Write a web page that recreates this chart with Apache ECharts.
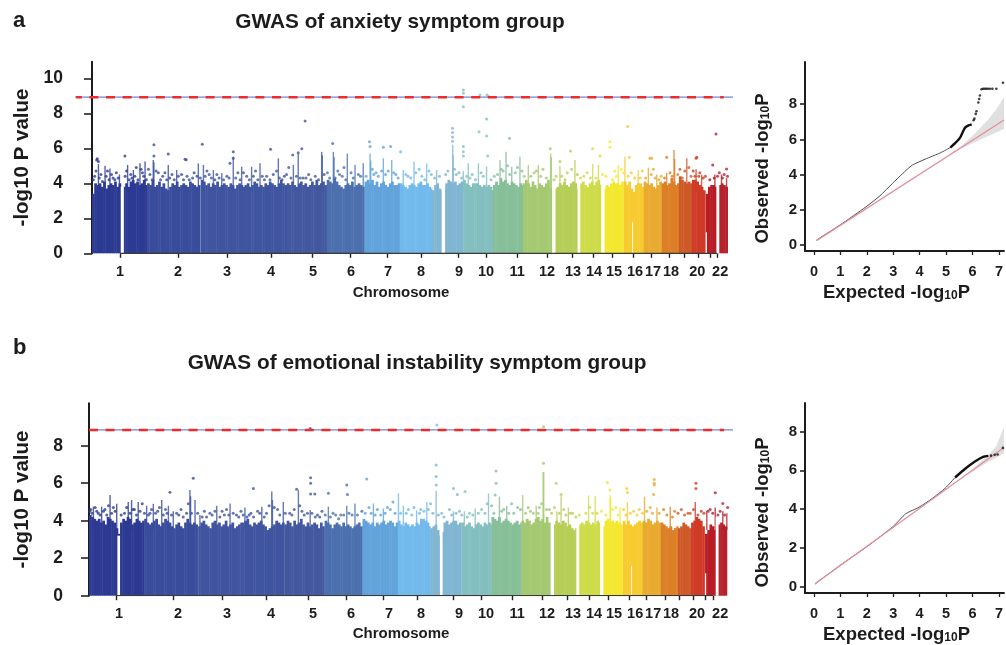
<!DOCTYPE html>
<html><head><meta charset="utf-8">
<style>html,body{margin:0;padding:0;background:#fff}#c{width:1006px;height:645px}</style>
<script src="https://cdn.jsdelivr.net/npm/echarts@6/dist/echarts.min.js"></script></head>
<body><div id="c"></div>
<script>
const FONT = '"Liberation Sans", Arial, sans-serif';
const chrNames = ['1','2','3','4','5','6','7','8','9','10','11','12','13','14','15','16','17','18','19','20','21','22'];
const chrSizes = [249,243,198,191,181,171,159,146,141,135,135,133,115,107,102,90,81,78,59,63,48,51];
const chrColors = ['#2c3a92','#3a4c9c','#40549f','#3f559f','#44589f','#4c70ae','#62a3db','#72b9ec','#80b6d2','#84bfbf','#86bf98','#a4c972','#b6ce58','#cedc4a','#f3e82f','#f7cb30','#e9aa30','#dc7f26','#cf5a29','#cf3b27','#b81c24','#b5222b'];

const labelNames = ['1','2','3','4','5','6','7','8','9','10','11','12','13','14','15','16','17','18','20','22'];
const labelPosA = [127,389,611,810,1000,1172,1339,1489,1661,1783,1923,2059,2176,2271,2362,2457,2538,2620,2738,2842];
const labelPosB = [135,401,622,821,1010,1181,1353,1497,1668,1790,1930,2065,2182,2277,2367,2462,2543,2624,2741,2845];
const tickPosA = [127,389,611,810,995,1167,1335,1489,1656,1783,1923,2059,2172,2267,2353,2448,2529,2611,2679,2742,2796,2828];
const tickPosB = [122,379,602,798,990,1159,1325,1479,1641,1770,1907,2042,2158,2253,2340,2435,2514,2596,2660,2723,2777,2813];
const yTicksA = [0,2,4,6,8,10];
const yTicksB = [0,2,4,6,8];
const thresholdA = 8.92;
const thresholdB = 8.84;

// top of the solid mass per 10 Mb bin, chromosome by chromosome
const bodyA = [
[3.4,4.0,3.9,4.0,3.8,4.1,3.7,3.9,4.0,3.9,4.1,3.8,4.0,3.6,3.8,4.0,3.8,4.1,4.2,4.0,4.1,3.9,4.0,4.2,3.9],
[4.0,3.9,4.2,3.8,3.9,4.1,3.8,4.0,3.7,3.6,3.8,4.0,3.9,4.1,3.8,3.9,4.0,3.9,3.8,4.1,4.0,3.9,3.8,3.9],
[4.2,4.1,3.9,4.0,3.8,4.0,3.9,4.1,3.8,3.9,4.0,3.9,3.8,4.0,3.9,3.7,3.9,4.0,3.9,3.8],
[3.9,4.0,3.8,3.9,4.1,4.0,3.8,3.9,3.8,4.0,3.9,4.1,4.0,3.9,3.8,4.0,4.2,4.0,3.9],
[4.0,3.9,4.1,3.9,3.8,4.0,4.1,3.9,4.0,3.8,3.9,4.1,3.9,4.2,3.9,4.0,4.1,3.9],
[4.2,4.1,4.0,4.3,4.1,3.9,3.8,3.7,3.9,4.0,3.9,4.1,3.8,3.9,4.0,3.9,3.8],
[4.1,4.2,4.0,4.2,3.9,4.1,3.8,4.0,4.1,3.9,3.8,4.0,4.1,3.9,3.9,4.0],
[4.0,3.9,3.8,3.7,3.9,4.0,3.9,3.8,4.0,4.1,3.9,3.9,4.0,3.8,3.7],
[3.6,3.9,4.0,3.7,3.6,3.7,4.0,4.2,4.1,4.0,4.1,3.9,4.0,4.1],
[4.2,4.0,3.9,3.8,4.0,4.0,4.0,3.9,3.8,3.9,3.8,3.9,3.8,3.6],
[3.9,4.1,3.9,4.3,4.1,4.2,4.0,3.9,4.1,4.0,3.9,3.8,4.0,3.9],
[4.0,4.2,4.0,3.8,4.1,3.9,3.7,4.0,3.9,3.8,4.0,4.2,3.7],
[3.6,3.7,3.8,4.0,3.9,4.1,3.9,3.8,4.0,4.1,4.0,3.7],
[3.6,4.0,4.1,3.9,3.8,4.0,4.1,3.9,4.1,4.2,3.9],
[3.5,3.7,3.9,3.8,4.0,4.1,4.0,4.0,3.9,4.1],
[4.1,3.9,4.1,3.7,3.5,3.9,4.0,4.0,3.8],
[4.1,4.0,3.9,4.0,3.8,3.7,3.9,4.1],
[4.0,4.1,3.9,4.0,4.3,4.1,3.9,4.0],
[4.4,4.2,4.1,4.0,4.1,4.0],
[4.2,4.2,4.1,3.9,3.8,3.6],
[3.4,3.8,3.9,3.9,3.8],
[3.6,3.9,4.0,3.9,3.8]];
const bodyB = [
[4.3,4.2,4.1,4.0,4.1,3.9,4.0,3.8,4.2,4.1,4.0,3.9,3.6,3.3,3.9,4.1,4.0,4.2,4.1,3.8,3.9,4.1,4.0,3.9,4.0],
[4.1,3.9,3.8,3.9,4.0,4.1,3.8,3.7,3.9,4.1,4.0,3.9,3.7,3.6,3.8,3.9,3.7,3.6,3.9,4.1,3.9,3.8,3.9,3.8],
[3.7,3.9,4.0,3.8,3.7,3.6,3.9,4.0,3.8,3.9,3.7,3.8,4.0,3.7,3.8,3.9,3.6,3.7,3.8,3.9],
[3.9,4.0,4.1,3.8,3.7,3.9,3.8,3.9,4.0,3.8,3.7,3.5,3.6,3.7,3.8,4.0,3.9,3.8,3.9],
[3.8,4.0,3.9,3.7,4.0,3.8,3.9,4.1,3.8,3.7,3.9,3.7,3.8,3.9,3.8,3.6,3.9,3.7],
[4.0,3.9,3.8,3.6,3.8,3.9,3.8,3.7,3.9,3.7,3.8,3.7,3.6,3.7,3.8,3.9,3.7],
[4.1,4.0,3.9,3.8,3.9,3.7,3.9,3.8,3.9,4.0,3.8,3.9,4.0,3.9,3.7,3.9],
[4.0,3.8,3.7,3.9,3.8,3.7,3.8,3.7,3.9,3.8,4.1,4.1,4.0,3.9,3.7],
[3.6,3.7,3.8,3.5,3.2,3.4,3.9,4.0,3.8,3.9,4.0,4.0,3.8,3.9],
[3.9,3.7,3.8,3.9,3.7,3.6,3.8,3.9,3.8,3.7,3.9,3.8,3.9,3.8],
[4.2,4.1,4.0,4.2,3.9,4.0,4.1,4.0,3.9,3.8,3.9,4.0,3.8,3.9],
[4.0,3.9,4.1,4.0,3.8,3.9,4.1,4.2,4.0,4.1,3.9,4.2,3.9],
[3.5,3.8,4.0,3.9,3.8,4.0,3.9,3.7,3.8,3.6,3.5,3.6],
[3.5,3.8,3.9,3.8,4.0,3.9,3.8,3.9,3.8,4.0,3.9],
[3.4,3.7,4.0,4.1,3.9,4.0,3.9,4.0,3.9,3.8],
[4.0,3.8,4.0,3.8,3.7,3.8,3.9,4.0,3.9],
[4.0,3.9,4.1,4.0,3.8,3.9,4.0,3.9],
[3.9,3.8,3.7,3.6,3.7,3.5,3.6,3.7],
[3.6,3.7,3.9,3.8,3.7,3.6],
[3.9,4.0,4.2,4.1,4.0,3.7],
[3.3,3.5,3.8,3.7,3.5],
[3.4,3.8,3.9,3.8,3.7]];

// unmapped stretches: [chromosome index, start Mb, end Mb, height]
const gapsA = [[0,130,144,3.8],[8,44,59,4.1],[12,0,15,4.2],[13,0,12,4.2],[14,0,15,4.3],[15,38,42,1.8],[20,0,5,1.2],[21,0,13,4.2]];
const gapsB = [[0,128,140,3.2],[8,44,56,3.5],[12,0,14,4.2],[13,0,13,4.2],[14,0,15,4.2],[15,38,42,1.6],[20,0,5,1.2],[21,0,13,4.2]];

// tall columns: [genome Mb, top]
const stemsA = [[29,5.1],[59,5.0],[81,4.85],[124,4.5],[161,5.05],[187,4.76],[217,5.14],[240,5.24],[277,5.33],[280,5.2],[345,5.05],[383,4.76],[481,5.14],[504,5.05],[549,4.76],[587,4.57],[639,5.52],[677,4.95],[722,4.95],[760,5.14],[843,5.43],[911,5.05],[933,5.7],[1039,5.8],[1042,5.6],[1092,5.8],[1095,5.5],[1155,5.7],[1190,5.05],[1227,5.14],[1258,5.7],[1261,5.3],[1318,5.43],[1356,5.33],[1408,4.76],[1457,5.24],[1514,5.14],[1559,4.76],[1632,6.2],[1634,5.6],[1680,4.7],[1702,5.14],[1748,5.14],[1785,4.95],[1846,5.33],[1873,5.8],[1899,4.95],[1936,5.52],[1974,5.05],[2019,5.05],[2075,5.7],[2078,5.5],[2117,5.0],[2185,5.33],[2265,5.1],[2291,5.05],[2381,5.05],[2411,5.52],[2471,4.76],[2517,4.9],[2555,4.5],[2600,4.6],[2633,5.9],[2636,5.4],[2691,5.43],[2733,4.8],[2758,4.5],[2818,4.5],[2848,4.5],[2871,4.3]];
const stemsB = [[20,4.75],[57,4.75],[95,5.37],[125,4.9],[177,5.0],[192,5.1],[222,5.0],[260,4.8],[290,4.9],[328,5.1],[358,4.8],[380,4.5],[455,5.63],[458,5.3],[478,5.1],[500,4.3],[576,4.8],[636,4.92],[703,4.7],[779,4.75],[824,5.55],[827,5.1],[876,5.0],[944,5.63],[997,4.57],[1079,4.75],[1162,4.8],[1199,4.92],[1282,4.92],[1327,4.65],[1395,5.45],[1417,4.8],[1477,4.55],[1523,5.0],[1565,5.6],[1643,4.5],[1692,4.5],[1741,4.65],[1801,5.45],[1850,5.28],[1883,4.8],[1955,5.37],[2016,4.8],[2047,6.6],[2050,6.6],[2109,4.5],[2128,5.3],[2161,4.7],[2252,5.35],[2282,5.3],[2349,5.37],[2351,5.2],[2394,4.7],[2427,5.0],[2504,5.28],[2560,4.7],[2620,4.75],[2733,5.0],[2785,4.5],[2823,4.7],[2857,4.5],[2875,4.4]];

// isolated SNPs: [genome Mb, -log10 P]
const dotsA = [[21,5.33],[29,5.24],[24,5.4],[149,5.56],[280,6.2],[280,5.56],[345,5.68],[421,5.37],[426,5.34],[499,6.23],[639,5.8],[639,5.43],[624,5.14],[808,5.94],[908,5.62],[949,5.98],[933,5.75],[964,7.56],[1089,6.27],[1255,6.38],[1258,6.1],[1318,6.06],[1351,6.1],[1396,5.8],[1631,7.14],[1631,6.9],[1631,6.65],[1631,6.4],[1680,9.33],[1680,9.15],[1680,8.38],[1680,6.1],[1680,5.8],[1680,5.56],[1751,6.95],[1785,7.68],[1785,6.7],[1790,5.56],[1755,9.05],[1788,9.05],[1796,8.95],[1889,6.57],[2073,5.98],[2165,5.85],[2117,5.24],[2265,5.98],[2298,5.56],[2343,6.38],[2343,6.06],[2423,7.24],[2431,5.49],[2524,5.43],[2532,5.43],[2600,5.49],[2733,5.43],[2736,5.49],[2823,6.82],[2808,5.05],[2871,4.82],
[12,4.4],[40,4.5],[70,4.7],[95,4.3],[110,4.6],[150,4.4],[175,4.5],[200,4.9],[228,4.6],[255,4.8],[300,4.6],[320,4.4],[362,4.5],[405,4.5],[430,4.4],[455,4.3],[520,4.7],[530,4.5],[565,4.5],[610,4.4],[660,4.6],[700,4.4],[740,4.7],[790,4.4],[820,4.5],[870,4.4],[890,4.9],[955,4.3],[980,4.5],[1010,4.4],[1065,4.6],[1120,4.5],[1140,4.9],[1205,4.5],[1285,4.6],[1340,4.7],[1375,4.5],[1430,4.4],[1480,4.8],[1535,4.5],[1600,4.5],[1660,4.6],[1720,4.5],[1770,4.4],[1820,4.4],[1860,4.7],[1915,4.6],[1955,4.4],[2000,4.6],[2040,4.8],[2100,4.4],[2150,4.6],[2210,4.3],[2240,4.6],[2310,4.5],[2365,4.7],[2395,4.8],[2440,4.6],[2490,4.7],[2540,4.8],[2575,4.4],[2615,4.6],[2660,4.8],[2700,4.9],[2720,4.7],[2750,4.6],[2775,4.4],[2795,4.2],[2838,4.6],[2860,4.5]];
const moreDotsA = [[6,4.2],[18,4.7],[33,4.3],[47,4.1],[64,4.4],[77,4.2],[88,4.5],[103,4.2],[118,4.3],[156,4.7],[168,4.2],[181,4.3],[194,4.4],[208,4.2],[222,4.8],[234,4.4],[246,4.2],[262,4.5],[272,4.2],[290,4.7],[310,4.2],[330,4.6],[338,4.2],[352,4.3],[372,4.2],[390,4.4],[414,4.2],[440,4.2],[462,4.6],[475,4.4],[490,4.3],[512,4.4],[540,4.3],[556,4.2],[575,4.3],[595,4.2],[620,4.3],[650,4.3],[670,4.2],[685,4.6],[712,4.2],[730,4.4],[750,4.2],[770,4.4],[780,4.2],[805,4.2],[835,4.7],[848,4.3],[860,4.2],[880,4.5],[900,4.3],[925,4.4],[942,4.3],[968,4.3],[990,4.2],[1025,4.2],[1050,4.5],[1075,4.3],[1100,4.3],[1112,4.7],[1132,4.4],[1148,4.2],[1172,4.6],[1182,4.3],[1215,4.4],[1240,4.4],[1268,4.8],[1275,4.5],[1295,4.4],[1310,4.7],[1328,4.5],[1365,4.6],[1385,4.3],[1420,4.5],[1442,4.3],[1465,4.6],[1492,4.4],[1505,4.2],[1525,4.7],[1550,4.3],[1572,4.4],[1610,4.7],[1640,4.8],[1648,4.5],[1672,4.3],[1695,4.4],[1710,4.3],[1735,4.2],[1760,4.6],[1805,4.2],[1835,4.5],[1852,4.8],[1880,5.0],[1890,4.5],[1925,4.9],[1945,4.7],[1985,4.4],[2010,4.7],[2030,4.4],[2055,4.3],[2090,4.2],[2125,4.4],[2140,4.2],[2170,4.8],[2195,4.5],[2225,4.4],[2255,4.3],[2280,4.3],[2325,4.4],[2355,4.2],[2372,4.4],[2405,4.6],[2425,4.4],[2455,4.3],[2480,4.3],[2505,4.3],[2530,4.5],[2548,4.3],[2565,4.2],[2590,4.3],[2625,4.4],[2650,4.5],[2670,4.3],[2682,4.7],[2710,4.4],[2728,4.4],[2745,4.4],[2765,4.3],[2815,4.3],[2830,4.4],[2852,4.3],[2875,4.4]];
const dotsB = [[470,6.26],[365,5.51],[741,5.72],[936,5.67],[999,6.29],[999,5.99],[999,5.42],[1018,5.42],[1079,5.46],[1162,5.9],[1165,5.4],[1252,6.22],[997,8.92],[1565,6.97],[1565,6.35],[1565,5.9],[1568,9.1],[1643,5.72],[1695,5.55],[1660,5.4],[1835,6.65],[1835,5.99],[1831,5.37],[2049,7.06],[2049,9.01],[2106,5.99],[2128,5.4],[2337,6.03],[2349,5.64],[2424,5.72],[2427,5.5],[2548,6.2],[2548,6.0],[2548,5.9],[2545,5.4],[2736,5.99],[2736,5.72],[2823,5.49],[2857,4.92],[2879,4.7],
[8,4.6],[35,4.5],[72,4.6],[110,4.7],[145,4.3],[205,4.6],[240,4.9],[275,4.4],[310,4.5],[345,4.6],[395,4.4],[415,4.6],[440,4.4],[520,4.5],[545,4.4],[600,4.5],[620,4.6],[665,4.3],[685,4.5],[730,4.4],[760,4.5],[800,4.4],[850,4.6],[905,4.4],[925,4.6],[960,4.5],[1030,4.3],[1050,4.5],[1100,4.4],[1135,4.3],[1230,4.5],[1262,4.7],[1300,4.6],[1345,4.7],[1370,5.0],[1440,4.6],[1495,4.6],[1540,4.9],[1590,4.4],[1625,4.6],[1670,4.5],[1715,4.4],[1770,4.6],[1815,4.8],[1870,4.6],[1905,4.9],[1945,4.6],[1990,4.5],[2030,4.7],[2075,4.6],[2140,4.6],[2180,4.4],[2210,4.3],[2270,4.4],[2310,4.5],[2375,4.7],[2410,4.6],[2455,4.5],[2480,4.6],[2530,4.7],[2590,4.6],[2640,4.5],[2670,4.6],[2700,4.4],[2760,4.5],[2800,4.6],[2845,4.5]];
const moreDotsB = [[4,4.5],[14,4.4],[28,4.7],[42,4.4],[50,4.3],[65,4.5],[80,4.3],[88,4.8],[102,4.4],[118,4.5],[160,4.4],[170,4.7],[185,4.4],[198,4.6],[214,4.3],[230,4.5],[250,4.4],[268,4.3],[282,4.6],[300,4.4],[318,4.7],[335,4.3],[352,4.4],[372,4.3],[405,4.3],[425,4.2],[448,4.9],[462,4.4],[490,4.4],[510,4.2],[530,4.2],[555,4.3],[568,4.5],[590,4.2],[610,4.3],[630,4.3],[650,4.4],[675,4.2],[695,4.3],[712,4.2],[722,4.3],[742,4.2],[770,4.4],[790,4.2],[812,4.8],[835,4.7],[860,4.3],[885,4.4],[915,4.3],[950,4.8],[970,4.3],[985,4.4],[1005,4.4],[1020,4.2],[1040,4.2],[1065,4.3],[1088,4.2],[1112,4.3],[1125,4.1],[1148,4.3],[1172,4.4],[1186,4.3],[1210,4.3],[1245,4.4],[1272,4.4],[1290,4.3],[1315,4.3],[1335,4.4],[1358,4.6],[1380,4.4],[1405,4.4],[1430,4.4],[1455,4.3],[1465,4.7],[1490,4.4],[1510,4.5],[1530,4.6],[1550,4.4],[1575,4.3],[1600,4.2],[1635,4.3],[1655,4.4],[1680,4.3],[1705,4.2],[1730,4.3],[1755,4.4],[1785,4.4],[1795,4.9],[1825,4.4],[1860,4.5],[1892,4.4],[1915,4.4],[1932,4.7],[1968,4.4],[1980,4.7],[2003,4.4],[2025,4.4],[2040,4.9],[2062,4.6],[2085,4.4],[2098,4.7],[2120,4.4],[2150,4.3],[2170,4.4],[2195,4.2],[2240,4.4],[2258,4.7],[2290,4.4],[2330,4.3],[2360,4.6],[2385,4.3],[2420,4.3],[2440,4.4],[2470,4.3],[2495,4.4],[2515,4.5],[2540,4.4],[2570,4.4],[2605,4.3],[2630,4.2],[2655,4.4],[2685,4.3],[2710,4.4],[2725,4.6],[2745,4.3],[2772,4.4],[2790,4.5],[2812,4.4],[2835,4.3],[2865,4.3]];

const qqObsA = [[0.1,0.28],[1,1.15],[1.97,2.17],[2.5,2.8],[2.97,3.5],[3.35,4.05],[3.72,4.54],[4.4,5.0],[4.8,5.25],[5.16,5.54]];
const qqThickA = [[5.16,5.54],[5.35,5.8],[5.53,6.1],[5.64,6.45],[5.72,6.67],[5.85,6.8],[5.97,6.86]];
const qqDotsA = [[6.04,7.09],[6.07,7.18],[6.12,7.45],[6.15,7.6],[6.22,8.1],[6.25,8.3],[6.28,8.5],[6.34,8.85],[6.4,8.88],[6.46,8.88],[6.52,8.88],[6.58,8.88],[6.66,8.88],[6.75,8.88],[6.9,8.88],[7.15,9.22]];
const qqLineA = [[0.1,0.25],[7.19,7.1]];
const qqBandXA = [5.0,5.6,6.1,6.6,6.9,7.19];
const qqBandLowA = [5.0,5.5,5.85,6.2,6.4,6.6];
const qqBandHighA = [5.0,5.65,6.35,7.15,7.7,8.4];

const qqObsB = [[0.04,0.12],[1,1.1],[2,2.05],[3,3.1],[3.47,3.75],[3.97,4.09],[4.47,4.54],[4.97,5.08],[5.34,5.63]];
const qqThickB = [[5.34,5.63],[5.72,6.08],[6.09,6.46],[6.4,6.7],[6.6,6.75]];
const qqDotsB = [[6.7,6.76],[6.84,6.8],[6.95,6.82],[7.15,7.16]];
const qqLineB = [[0.04,0.14],[7.19,7.18]];
const qqBandXB = [5.6,6.2,6.6,6.9,7.19];
const qqBandLowB = [5.6,6.1,6.45,6.65,6.88];
const qqBandHighB = [5.6,6.3,6.8,7.25,8.25];

const qqTicksX = [0,1,2,3,4,5,6,7];
const qqTicksYA = [0,2,4,6,8];
const qqTicksYB = [0,2,4,6,8];

const chrStart = []; chrSizes.reduce((s,v,i)=>{chrStart[i]=s;return s+v;},0);
function colorAt(mb){let i=chrSizes.length-1;while(i>0&&chrStart[i]>mb)i--;return chrColors[i];}

function rectRender(params, api){
  const a=api.coord([api.value(0),api.value(2)]), b=api.coord([api.value(1),0]);
  return {type:'rect',shape:{x:a[0],y:a[1],width:b[0]-a[0]+0.5,height:b[1]-a[1]},style:{fill:chrColors[api.value(3)]}};
}
function stemRender(params, api){
  const a=api.coord([api.value(0),api.value(1)]), b=api.coord([api.value(0),3.5]);
  return {type:'rect',shape:{x:a[0]-0.7,y:a[1],width:1.4,height:b[1]-a[1]},style:{fill:colorAt(api.value(0)),opacity:0.8}};
}
function gapRender(params, api){
  const a=api.coord([api.value(0),api.value(2)]), b=api.coord([api.value(1),0]);
  return {type:'rect',shape:{x:a[0],y:a[1],width:b[0]-a[0],height:b[1]-a[1]},style:{fill:'#fff'}};
}
function manhattan(idx, body, gaps, stems, dots, ticks, threshold, dashOffset){
  const bins=[];
  body.forEach((tops,c)=>tops.forEach((t,i)=>{
    const s=i*10,e=Math.min((i+1)*10,chrSizes[c]);
    if(s<chrSizes[c]) bins.push([chrStart[c]+s,chrStart[c]+e,t,c]);
  }));
  const gapData=gaps.map(g=>[chrStart[g[0]]+g[1],chrStart[g[0]]+g[2],g[3],g[0]]);
  const common={xAxisIndex:idx,yAxisIndex:idx,silent:true};
  const x=X[idx];
  return [
    {...common,type:'custom',name:'body',renderItem:rectRender,data:bins,encode:{x:[0,1],y:2},z:2},
    {...common,type:'custom',name:'stems',renderItem:stemRender,data:stems,encode:{x:0,y:1},z:3},
    {...common,type:'custom',name:'gaps',renderItem:gapRender,data:gapData,encode:{x:[0,1],y:2},z:4},
    {...common,type:'scatter',name:'snps',data:dots,symbol:'circle',symbolSize:3,z:5,
      itemStyle:{color:p=>colorAt(p.value[0]),opacity:0.8}},
    {...common,type:'line',name:'base',data:[[ticks[0],0],[ticks[ticks.length-1],0]],symbol:'none',z:6,
      lineStyle:{color:'#3a3a3a',width:1.3}},
    {...common,type:'line',name:'threshold',data:[[x.min+x.lineLeft,threshold],[x.max,threshold]],symbol:'none',z:6,
      lineStyle:{color:'#6f86dc',width:1.2}},
    {...common,type:'line',name:'thresholdDash',data:[[x.min+x.dashLeft,threshold],[x.dashRight,threshold]],symbol:'none',z:7,
      lineStyle:{color:'#ee2b2b',width:2.6,type:[9,7.6],dashOffset:dashOffset}}
  ];
}
function polyRender(xs,lo,hi,fill){
  return function(params,api){
    if(params.dataIndex>0) return null;
    const pts=[];
    xs.forEach((v,i)=>pts.push(api.coord([v,lo[i]])));
    for(let i=xs.length-1;i>=0;i--)pts.push(api.coord([xs[i],hi[i]]));
    return {type:'polygon',shape:{points:pts},style:{fill:fill}};
  };
}
function qq(idx,bx,bl,bh,ref,obs,thick,dots){
  const c={xAxisIndex:idx,yAxisIndex:idx,silent:true};
  return [
    {...c,type:'custom',name:'ci',renderItem:polyRender(bx,bl,bh,'#e0e0e0'),data:bx.map((v,i)=>[v,bl[i]]),encode:{x:0,y:1},z:2},
    {...c,type:'line',name:'expected',data:ref,symbol:'none',z:4,lineStyle:{color:'#e2909c',width:1.3}},
    {...c,type:'line',name:'observed',data:obs,symbol:'none',smooth:0.2,z:3,lineStyle:{color:'#4d4d4d',width:1}},
    {...c,type:'line',name:'observedTail',data:thick,symbol:'none',smooth:0.2,z:5,lineStyle:{color:'#111',width:2.4}},
    {...c,type:'scatter',name:'tail',data:dots,symbolSize:2.6,z:5,itemStyle:{color:'#111'}}
  ];
}
// extent of each panel's value axis, and where the threshold rules begin and end
const X = [
 {min:-77,max:2900,lineLeft:0,dashLeft:5,dashRight:2858},
 {min:-63,max:2903,lineLeft:63,dashLeft:63,dashRight:2863}
];
const ink='#1c1c1c';
function mhXAxis(i,labels,ticks){
  return {gridIndex:i,type:'value',min:X[i].min,max:X[i].max,
    name:'Chromosome',nameLocation:'middle',nameGap:i===0?32:31,
    nameTextStyle:{fontFamily:FONT,fontWeight:'bold',fontSize:15,color:ink,padding:[0,6,0,0]},
    axisLine:{show:false},splitLine:{show:false},
    axisTick:{show:true,customValues:ticks,length:4.5,lineStyle:{color:'#222',width:1.4}},
    axisLabel:{customValues:labels,margin:11,fontFamily:FONT,fontWeight:'bold',fontSize:14.5,color:ink,hideOverlap:false,showMinLabel:true,showMaxLabel:true,
      formatter:v=>labelNames[labels.indexOf(v)]}};
}
function yAxisCfg(i,min,max,ticks,name,gap,size,extra){
  return {gridIndex:i,type:'value',min:min,max:max,
    name:name,nameLocation:'middle',nameGap:gap,nameRotate:90,
    nameTextStyle:Object.assign({fontFamily:FONT,fontWeight:'bold',fontSize:20.5,color:ink},extra||{}),
    axisLine:{show:true,lineStyle:{color:'#1c1c1c',width:2}},splitLine:{show:false},
    axisTick:{show:true,customValues:ticks,length:8,lineStyle:{color:'#222',width:1.6}},
    axisLabel:{customValues:ticks,margin:12,fontFamily:FONT,fontWeight:'bold',fontSize:size,color:ink,showMinLabel:true}};
}
const rich={a:{fontFamily:FONT,fontWeight:'bold',fontSize:18.5,color:ink},s:{fontFamily:FONT,fontWeight:'bold',fontSize:12,color:ink,verticalAlign:'bottom',padding:[4,0,0,0]}};
const qqName=w=>`{a|${w} -log}{s|10}{a|P}`;
function qqXAxis(i){
  return {gridIndex:i,type:'value',min:-0.337,max:7.19,
    name:qqName('Expected'),nameLocation:'middle',nameGap:32,
    nameTextStyle:{rich:rich,padding:[0,16,0,0]},
    axisLine:{show:true,onZero:false,lineStyle:{color:'#1c1c1c',width:1.8}},splitLine:{show:false},
    axisTick:{show:true,customValues:qqTicksX,length:4,lineStyle:{color:'#222',width:1.3}},
    axisLabel:{customValues:qqTicksX,margin:13,fontFamily:FONT,fontWeight:'bold',fontSize:14.5,color:ink}};
}
function qqYAxis(i,min,max,ticks,pad,size){
  const a=yAxisCfg(i,min,max,ticks,qqName('Observed'),33,size);
  a.nameTextStyle={rich:rich,padding:[0,pad,0,0]};
  a.axisTick.length=5;a.axisLabel.margin=8;a.axisLine.onZero=false;
  return a;
}
const titleStyle={fontFamily:FONT,fontWeight:'bold',fontSize:20.8,color:ink};
const option={
  animation:false,backgroundColor:'#fff',
  title:[
    {text:'a',left:13,top:10,padding:0,textStyle:{...titleStyle,fontSize:22}},
    {text:'GWAS of anxiety symptom group',left:400,top:12,padding:0,textAlign:'center',textStyle:titleStyle},
    {text:'b',left:13,top:337,padding:0,textStyle:{...titleStyle,fontSize:22}},
    {text:'GWAS of emotional instability symptom group',left:417,top:353,padding:0,textAlign:'center',textStyle:titleStyle}
  ],
  grid:[
    {left:75,top:61.7,width:658,height:191.6},
    {left:75,top:403.3,width:658,height:192.4},
    {left:805,top:62,width:201,height:189},
    {left:805,top:403,width:201,height:191}
  ],
  xAxis:[mhXAxis(0,labelPosA,tickPosA),mhXAxis(1,labelPosB,tickPosB),qqXAxis(2),qqXAxis(3)],
  yAxis:[
    yAxisCfg(0,0,10.95,yTicksA,'-log10 P value',42,17.5),
    yAxisCfg(1,0,10.26,yTicksB,'-log10 P value',42,17.5),
    qqYAxis(2,-0.34,10.4,qqTicksYA,24,15),
    qqYAxis(3,-0.34,9.48,qqTicksYB,29,15)
  ],
  series:[
    ...manhattan(0,bodyA,gapsA,stemsA,dotsA.concat(moreDotsA),tickPosA,thresholdA,3.3),
    ...manhattan(1,bodyB,gapsB,stemsB,dotsB.concat(moreDotsB),tickPosB,thresholdB,0),
    ...qq(2,qqBandXA,qqBandLowA,qqBandHighA,qqLineA,qqObsA,qqThickA,qqDotsA),
    ...qq(3,qqBandXB,qqBandLowB,qqBandHighB,qqLineB,qqObsB,qqThickB,qqDotsB)
  ]
};
echarts.init(document.getElementById('c'),null,{renderer:'canvas'}).setOption(option);
</script></body></html>
